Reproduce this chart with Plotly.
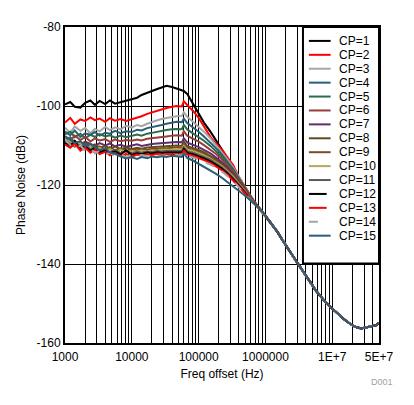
import plotly.graph_objects as go

# ---------------- data ----------------
freq_low = [1000, 1200, 1400, 1700, 2000, 2400, 2800, 3300, 4000, 4700, 5600, 6800, 8200,
            10000, 12000, 14000, 17000, 20000, 24000, 28000, 33000, 40000, 47000, 56000, 60000,
            68000, 82000, 100000, 120000, 150000, 180000, 220000, 270000, 330000, 390000,
            470000, 560000, 680000]
freq_tail = [820000, 1000000, 1200000, 1500000, 1800000, 2200000, 2700000, 3300000, 3900000,
             4700000, 5600000, 6800000, 8200000, 10000000, 12000000, 15000000, 18000000,
             22000000, 27000000, 33000000, 39000000, 45000000, 50000000]
pn_tail = [-126.0, -127.8, -129.6, -131.8, -134.0, -136.3, -138.6, -140.8, -142.6, -144.6,
           -146.6, -148.3, -149.9, -151.3, -152.6, -154.0, -155.0, -155.9, -156.3, -156.0,
           -155.6, -155.5, -154.9]

cp1 = [-99.6, -99.0, -100.2, -100.4, -99.2, -98.6, -99.7, -98.7, -99.5, -98.6, -99.4, -99.0, -98.5,
       -98.2, -97.9, -97.2, -96.6, -96.2, -95.7, -95.3, -94.9, -95.2, -95.6, -96.0, -96.2,
       -97.0, -99.3, -101.8, -104.2, -106.5, -108.6, -110.6, -113.0, -115.5, -117.8, -119.8, -122.0, -124.2]
cp2 = [-104.2, -103.0, -104.5, -103.4, -103.8, -102.9, -103.6, -103.2, -104.0, -103.1, -103.7, -103.3, -103.8,
       -103.4, -102.9, -102.6, -102.0, -101.6, -101.2, -100.8, -100.5, -100.2, -100.0, -100.1, -98.8,
       -99.8, -101.2, -103.0, -105.2, -107.8, -109.4, -111.0, -113.0, -115.0, -117.6, -119.8, -122.0, -124.3]
cp3 = [-105.5, -106.8, -105.2, -106.3, -105.6, -106.9, -105.8, -106.4, -105.3, -106.1, -105.4, -105.9, -105.0,
       -105.4, -104.8, -105.1, -104.5, -104.0, -103.6, -103.3, -103.0, -102.8, -102.6, -102.5, -101.6,
       -102.8, -104.0, -105.2, -106.5, -108.2, -109.8, -111.5, -113.5, -115.6, -117.8, -119.9, -122.1, -124.3]
cp4 = [-106.5, -107.4, -106.2, -107.8, -106.9, -107.3, -106.6, -107.5, -106.8, -107.0, -106.3, -106.9, -106.4,
       -106.6, -106.0, -106.2, -105.6, -105.4, -105.0, -104.8, -104.5, -104.2, -104.0, -104.1, -103.2,
       -104.4, -105.4, -106.5, -107.7, -109.2, -110.6, -112.2, -114.0, -116.0, -118.0, -120.0, -122.2, -124.3]
cp5 = [-107.2, -106.5, -107.9, -107.0, -108.1, -107.3, -107.8, -107.1, -107.7, -107.4, -108.0, -107.5, -107.9,
       -107.6, -107.2, -107.5, -107.0, -106.8, -106.5, -106.3, -106.1, -105.9, -105.8, -105.9, -104.8,
       -106.0, -106.9, -107.8, -108.8, -110.1, -111.3, -112.8, -114.5, -116.3, -118.2, -120.1, -122.3, -124.4]
cp6 = [-107.9, -108.8, -107.5, -108.6, -107.8, -109.0, -108.2, -108.7, -108.4, -109.1, -108.5, -108.9, -108.6,
       -108.8, -108.5, -108.7, -108.3, -108.2, -108.0, -107.9, -107.7, -107.5, -107.4, -107.5, -106.4,
       -107.6, -108.3, -109.0, -109.9, -111.0, -112.1, -113.4, -115.0, -116.7, -118.5, -120.3, -122.4, -124.4]
cp7 = [-108.5, -109.4, -108.9, -109.8, -109.0, -109.6, -110.1, -109.4, -110.0, -109.5, -110.2, -109.8, -110.3,
       -110.0, -109.7, -110.1, -109.8, -109.6, -109.5, -109.4, -109.3, -109.2, -109.1, -109.2, -108.2,
       -109.3, -109.8, -110.4, -111.1, -112.0, -113.0, -114.1, -115.6, -117.2, -118.9, -120.6, -122.6, -124.5]
cp8 = [-109.0, -108.2, -109.6, -110.4, -109.3, -110.2, -109.7, -110.6, -110.1, -110.8, -110.3, -110.9, -110.5,
       -110.9, -110.6, -110.8, -110.5, -110.4, -110.3, -110.2, -110.1, -110.0, -110.0, -110.1, -109.0,
       -110.2, -110.6, -111.1, -111.7, -112.6, -113.5, -114.6, -116.0, -117.5, -119.1, -120.8, -122.7, -124.5]
cp9 = [-108.2, -109.5, -110.3, -109.1, -110.6, -109.8, -110.9, -110.2, -111.0, -110.4, -111.2, -110.7, -111.3,
       -111.0, -111.2, -110.9, -111.1, -110.8, -110.9, -110.7, -110.7, -110.6, -110.5, -110.6, -109.6,
       -110.7, -111.0, -111.5, -112.1, -112.9, -113.8, -114.9, -116.2, -117.7, -119.3, -121.0, -122.8, -124.5]
cp10 = [-107.8, -108.9, -110.0, -109.4, -110.8, -110.1, -111.2, -110.6, -111.4, -110.9, -111.6, -111.1, -111.7,
        -111.4, -111.6, -111.3, -111.5, -111.2, -111.3, -111.1, -111.1, -111.0, -110.9, -111.0, -110.1,
        -111.1, -111.4, -111.9, -112.5, -113.3, -114.1, -115.2, -116.5, -117.9, -119.5, -121.1, -122.9, -124.6]
cp11 = [-108.6, -107.9, -109.2, -110.6, -109.7, -111.0, -110.4, -111.5, -110.8, -111.7, -111.1, -111.9, -111.4,
        -112.0, -111.6, -111.8, -111.5, -111.7, -111.4, -111.5, -111.4, -111.4, -111.3, -111.4, -110.5,
        -111.5, -111.8, -112.3, -112.9, -113.6, -114.4, -115.5, -116.8, -118.2, -119.7, -121.3, -123.0, -124.6]
cp12 = [-109.3, -110.1, -108.8, -110.9, -110.2, -111.4, -110.6, -111.8, -111.2, -112.0, -111.5, -112.3, -111.2,
        -112.4, -112.0, -112.2, -111.8, -112.0, -111.7, -111.9, -111.8, -111.8, -111.7, -111.8, -110.9,
        -111.9, -112.2, -112.7, -113.3, -114.0, -114.8, -115.8, -117.1, -118.5, -119.9, -121.5, -123.2, -124.7]
cp13 = [-109.8, -110.6, -109.5, -111.3, -110.5, -111.8, -111.0, -112.2, -111.6, -112.5, -111.9, -112.7, -112.1,
        -112.8, -112.3, -112.6, -112.2, -112.4, -112.1, -112.3, -112.2, -112.2, -112.1, -112.2, -111.3,
        -112.3, -112.6, -113.1, -113.7, -114.4, -115.2, -116.2, -117.4, -118.8, -120.2, -121.7, -123.3, -124.7]
cp14 = [-108.4, -109.9, -110.8, -110.0, -111.4, -110.7, -112.0, -111.3, -112.4, -111.8, -112.7, -112.2, -112.9,
        -112.5, -112.8, -112.4, -112.7, -112.5, -112.6, -112.5, -112.5, -112.5, -112.4, -112.5, -111.6,
        -112.6, -113.0, -113.5, -114.1, -114.8, -115.5, -116.5, -117.7, -119.0, -120.4, -121.9, -123.4, -124.8]
cp15 = [-107.6, -108.7, -109.4, -108.9, -110.2, -109.6, -110.5, -111.2, -110.7, -111.8, -112.1, -112.8, -113.3,
        -113.0, -113.4, -112.9, -113.2, -112.8, -113.0, -112.7, -112.9, -112.6, -112.8, -112.9, -112.0,
        -113.2, -113.8, -114.6, -115.4, -116.3, -117.1, -118.1, -119.2, -120.5, -121.4, -122.4, -123.5, -124.8]

series_names = ["CP=%d" % i for i in range(1, 16)]
series_low = [cp1, cp2, cp3, cp4, cp5, cp6, cp7, cp8, cp9, cp10, cp11, cp12, cp13, cp14, cp15]
series_colors = ["#000000", "#FF0000", "#A5A5A5", "#2A5F78", "#2B6B4B", "#9B3C3C", "#5F2D6B",
                 "#5E4B22", "#7E4A1F", "#B5A955", "#595959", "#000000", "#FF0000", "#A5A5A5", "#2A5F78"]
series_dash = ["solid"] * 13 + ["dash", "solid"]

x_major_vals = [1000, 10000, 100000, 1000000, 10000000, 50000000]
x_major_text = ["1000", "10000", "100000", "1000000", "1E+7", "5E+7"]
y_tick_vals = [-160, -140, -120, -100, -80]
y_tick_text = ["-160", "-140", "-120", "-100", "-80"]

# ---------------- figure ----------------
FONT = "Liberation Sans, Arial, sans-serif"
fig = go.Figure()
freq_all = freq_low + freq_tail
for name, low, col, dash in zip(series_names, series_low, series_colors, series_dash):
    fig.add_trace(go.Scatter(x=freq_all, y=low + pn_tail, mode="lines", name=name,
                             line=dict(color=col, width=2, dash=dash), showlegend=False))

# tick/grid positions: every 1..9 multiple per decade
grid_vals, grid_text = [], []
for e in range(3, 8):
    for m in range(1, 10):
        v = m * 10 ** e
        if v > 5e7:
            break
        grid_vals.append(v)
        grid_text.append(x_major_text[x_major_vals.index(v)] if v in x_major_vals else "")

# page body has an 8px margin: work in screen pixels and shift
OFF = 8
W, H = 398, 389
PL, PR, PT, PB = 63, 381, 25, 343          # plot area in screen pixels
L, R, T, B = PL - OFF, W - (PR - OFF), PT - OFF, H - (PB - OFF)
pw, ph = PR - PL, PB - PT

fig.update_layout(
    width=W, height=H,
    margin=dict(l=L, r=R, t=T, b=B),
    paper_bgcolor="white", plot_bgcolor="white",
    font=dict(family=FONT, size=12, color="black"),
    showlegend=False,
)
fig.update_xaxes(type="log", range=[3, 7.69897], tickmode="array", tickvals=grid_vals,
                 ticktext=grid_text, showgrid=True, gridcolor="black", gridwidth=1,
                 showline=True, linecolor="black", linewidth=2, mirror=True, ticks="",
                 zeroline=False, title=dict(text="Freq offset (Hz)", font=dict(size=12), standoff=6),
                 tickfont=dict(size=12), ticklabelstandoff=2)
fig.update_yaxes(range=[-160, -80], tickmode="array", tickvals=y_tick_vals, ticktext=y_tick_text,
                 showgrid=True, gridcolor="black", gridwidth=1,
                 showline=True, linecolor="black", linewidth=2, mirror=True, ticks="",
                 zeroline=False, title=dict(text="Phase Noise (dBc)", font=dict(size=12), standoff=8),
                 tickfont=dict(size=12))

# manual legend (box, keys, labels)
def px2x(px):
    return (px - PL) / pw

def py2y(py):
    return (PB - py) / ph

fig.add_shape(type="rect", xref="paper", yref="paper", x0=px2x(304), x1=px2x(381),
              y0=py2y(263), y1=py2y(25), fillcolor="white", line=dict(color="black", width=2),
              layer="above")
row0, step = 39, 14
for i, (name, col, dash) in enumerate(zip(series_names, series_colors, series_dash)):
    yy = py2y(row0 + step * i)
    x_end = 332 if i < 11 or i == 14 else 328
    fig.add_shape(type="line", xref="paper", yref="paper", x0=px2x(310), x1=px2x(x_end),
                  y0=yy, y1=yy, line=dict(color=col, width=2, dash=dash), layer="above")
    fig.add_annotation(xref="paper", yref="paper", x=px2x(338), y=yy, text=name,
                       showarrow=False, xanchor="left", yanchor="middle",
                       font=dict(size=12, color="black", family=FONT))

fig.add_annotation(xref="paper", yref="paper", x=px2x(397), y=py2y(382), text="D001",
                   showarrow=False, xanchor="right", yanchor="middle",
                   font=dict(size=9, color="#A0A0A0", family=FONT))

fig.write_html("out.html")
